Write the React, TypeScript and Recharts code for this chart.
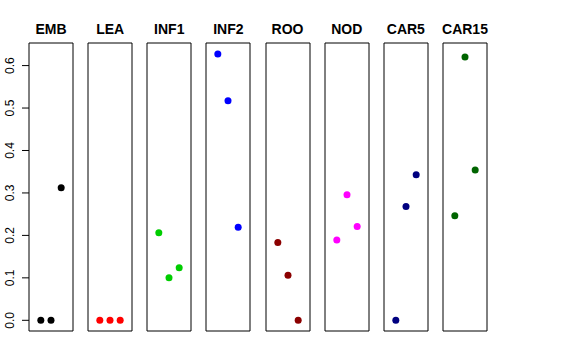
import React from "react";
import { ScatterChart, Scatter, XAxis, YAxis, ReferenceArea } from "recharts";

// panel names and colours
const tissues = ["EMB", "LEA", "INF1", "INF2", "ROO", "NOD", "CAR5", "CAR15"];
const colors = ["#000000", "#FF0000", "#00CD00", "#0000FF", "#8B0000", "#FF00FF", "#000080", "#006400"];

// three samples per tissue, x = 1, 2, 3
const samplePos = [1, 2, 3];
const embValues = [0, 0, 0.312];
const leaValues = [0, 0, 0];
const inf1Values = [0.206, 0.1, 0.124];
const inf2Values = [0.627, 0.517, 0.219];
const rooValues = [0.183, 0.106, 0];
const nodValues = [0.189, 0.296, 0.221];
const car5Values = [0, 0.268, 0.343];
const car15Values = [0.246, 0.62, 0.354];

const allValues = [embValues, leaValues, inf1Values, inf2Values, rooValues, nodValues, car5Values, car15Values];
const yTicks = [0, 0.1, 0.2, 0.3, 0.4, 0.5, 0.6];

const X_DOMAIN: [number, number] = [-0.16, 4.16];
const Y_DOMAIN: [number, number] = [-0.0252, 0.6532];

const BOX_W = 44;
const BOX_H = 288;
const BOX_TOP = 43;
const FIRST_LEFT = 29;
const STEP = 59.14;
const AXIS_W = 28;

const font = "'Liberation Sans', Arial, Helvetica, sans-serif";

function YTick(props: any) {
  const { x, y, payload } = props;
  return (
    <text
      x={x}
      y={y}
      transform={`rotate(-90, ${x}, ${y})`}
      textAnchor="middle"
      fontSize={12}
      fontFamily={font}
      fill="#000"
    >
      {payload.value.toFixed(1)}
    </text>
  );
}

function Dot(color: string) {
  return (p: any) => <circle cx={p.cx} cy={p.cy} r={3.5} fill={color} />;
}

function Panel({ idx }: { idx: number }) {
  const data = samplePos.map((x, i) => ({ x, y: allValues[idx][i] }));
  const first = idx === 0;
  const boxLeft = FIRST_LEFT + idx * STEP;
  const axisW = first ? AXIS_W : 0;
  return (
    <>
      <div
        style={{
          position: "absolute",
          left: boxLeft - 20,
          width: BOX_W + 40,
          top: 22,
          textAlign: "center",
          fontFamily: font,
          fontWeight: "bold",
          fontSize: 14,
          lineHeight: "14px",
        }}
      >
        {tissues[idx]}
      </div>
      <div style={{ position: "absolute", left: boxLeft - 1 - axisW, top: BOX_TOP - 1 }}>
        <ScatterChart
          width={BOX_W + axisW + 2}
          height={BOX_H + 2}
          margin={{ top: 1, right: 1, bottom: 1, left: 1 }}
        >
          <XAxis type="number" dataKey="x" domain={X_DOMAIN} hide />
          {first ? (
            <YAxis
              type="number"
              dataKey="y"
              domain={Y_DOMAIN}
              width={AXIS_W}
              ticks={yTicks}
              interval={0}
              axisLine={false}
              tickLine={{ stroke: "#000" }}
              tickSize={7}
              tickMargin={7.5}
              tick={<YTick />}
            />
          ) : (
            <YAxis type="number" dataKey="y" domain={Y_DOMAIN} hide />
          )}
          <ReferenceArea
            x1={X_DOMAIN[0]}
            x2={X_DOMAIN[1]}
            y1={Y_DOMAIN[0]}
            y2={Y_DOMAIN[1]}
            fill="none"
            stroke="#000"
            strokeWidth={1}
            ifOverflow="visible"
          />
          <Scatter data={data} fill={colors[idx]} shape={Dot(colors[idx])} isAnimationActive={false} />
        </ScatterChart>
      </div>
    </>
  );
}

export default function App() {
  return (
    <div style={{ position: "fixed", left: 0, top: 0, width: 576, height: 360, background: "#fff" }}>
      {tissues.map((_, i) => (
        <Panel key={i} idx={i} />
      ))}
    </div>
  );
}
